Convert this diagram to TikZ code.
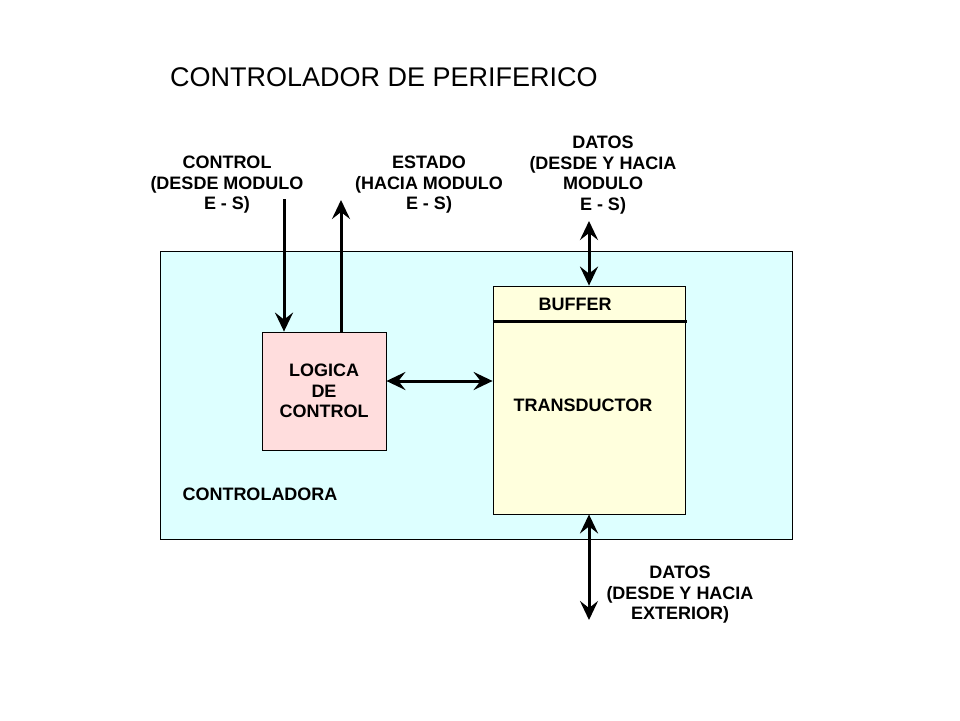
\documentclass[tikz,border=0pt]{standalone}
\usepackage{fontspec}
\setmainfont{Liberation Sans}
\usetikzlibrary{arrows.meta}
\definecolor{ctrlcyan}{RGB}{221,255,255}
\definecolor{logicpink}{RGB}{255,221,221}
\definecolor{transyellow}{RGB}{255,255,221}
\tikzset{
    block/.style={draw, line width=0.8pt, inner sep=0pt},
    lbl/.style={align=center, font=\bfseries\fontsize{18}{20.5}\selectfont, inner sep=0pt},
    arr/.style={line width=3pt, -{Stealth[length=19pt, width=18pt, inset=7pt]}},
    darr/.style={line width=3pt, {Stealth[length=19pt, width=18pt, inset=7pt]}-{Stealth[length=19pt, width=18pt, inset=7pt]}}
}

\begin{document}
\begin{tikzpicture}[x=1pt, y=-1pt]
\useasboundingbox (0,0) rectangle (960,720);
\node[font=\fontsize{27}{30}\selectfont, inner sep=0pt] (title) at (384,77) {CONTROLADOR DE PERIFERICO};

\node[block, fill=ctrlcyan, minimum width=632pt, minimum height=288pt] (ctrl) at (476,395) {};
\node[block, fill=logicpink, minimum width=124pt, minimum height=118pt, lbl] (logic) at (324,391) {LOGICA\\DE\\CONTROL};
\node[block, fill=transyellow, minimum width=192pt, minimum height=228pt] (transd) at (589,400) {};
\draw[line width=3pt] ([yshift=-36pt]transd.north west) -- ([yshift=-36pt, xshift=2pt]transd.north east);
\node[lbl] (buffer) at (575,304) {BUFFER};
\node[lbl] (translbl) at (583,405) {TRANSDUCTOR};
\node[lbl] (ctrllbl) at (260,494) {CONTROLADORA};

\node[lbl] (controlin) at (227,185) {CONTROL\\(DESDE MODULO\\E - S)};
\node[lbl] (estadoout) at (429,185) {ESTADO\\(HACIA MODULO\\E - S)};
\node[lbl] (datosmod) at (603,175) {DATOS\\(DESDE Y HACIA\\MODULO\\E - S)};
\node[lbl] (datosext) at (680,595) {DATOS\\(DESDE Y HACIA\\EXTERIOR)};

\coordinate (cin) at (284,199);
\coordinate (eout) at (341,200);
\coordinate (din) at (589,221);
\coordinate (dout) at (589,620);

\draw[arr] (cin) -- (cin |- logic.north);
\draw[arr] (eout |- logic.north) -- (eout);
\draw[darr] (din) -- (din |- transd.north);
\draw[darr] ([yshift=10pt]logic.east) -- ([yshift=10pt]logic.east -| transd.west);
\draw[darr] (transd.south) -- (dout);
\end{tikzpicture}
\end{document}
